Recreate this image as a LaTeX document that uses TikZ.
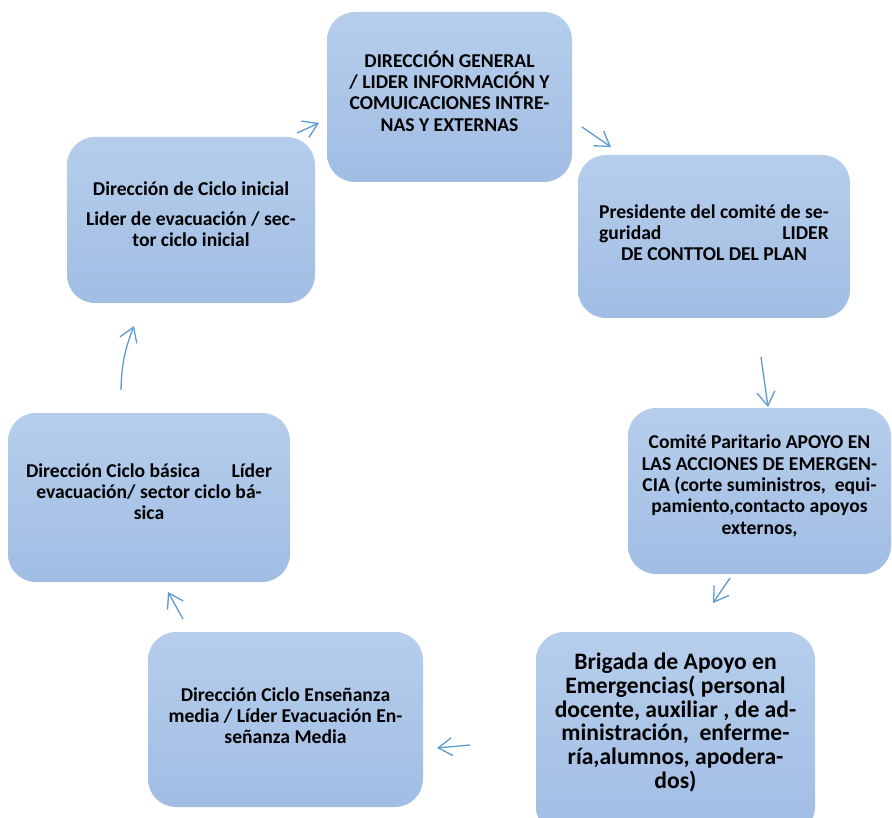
\documentclass[tikz,border=0pt]{standalone}
\usepackage{fontspec}
\setmainfont{Carlito}
\usetikzlibrary{arrows.meta}
\definecolor{boxtop}{RGB}{182,206,236}
\definecolor{boxbot}{RGB}{161,189,228}
\definecolor{arr}{RGB}{91,155,213}
\newlength\presw
\AtBeginDocument{\settowidth\presw{\normalfont\bfseries\fontsize{19.6}{21}\selectfont Presidente del comité de se-}}
\tikzset{
  box/.style={rounded corners=28pt, top color=boxtop, bottom color=boxbot, draw=none, inner sep=0pt},
  txt/.style={align=center, font=\fontsize{19.6}{21.3}\selectfont\bfseries, inner sep=0pt},
  bigtxt/.style={txt, font=\fontsize{23.6}{23.8}\selectfont\bfseries},
  conn/.style={draw=arr, line width=1.3pt, -{Straight Barb[length=14pt,width=18pt]}},
}
\begin{document}
\begin{tikzpicture}[x=1pt,y=-1pt]
\useasboundingbox[fill=white] (0,0) rectangle (892,818);
\node[box, minimum width=245pt, minimum height=170pt] (b1) at (449.5,97) {};
\node[txt] (b1t) at ([yshift=6pt]b1.center)
  {DIRECCIÓN GENERAL\\/ LIDER INFORMACIÓN Y\\COMUICACIONES INTRE-\\NAS Y EXTERNAS};
\node[box, minimum width=272pt, minimum height=163pt] (b2) at (714,236.5) {};
\node[txt] (b2t) at ([yshift=4pt]b2.center)
  {Presidente del comité de se-\\\makebox[\presw][s]{guridad\hfill LIDER}\\DE CONTTOL DEL PLAN};
\node[box, minimum width=263pt, minimum height=166pt] (b3) at (759.5,491) {};
\node[txt] (b3t) at ([yshift=5pt]b3.center)
  {Comité Paritario APOYO EN\\LAS ACCIONES DE EMERGEN-\\CIA (corte suministros,\ \ equi-\\pamiento,contacto apoyos\\externos,};
\node[box, minimum width=279pt, minimum height=203pt] (b4) at (675.5,733.5) {};
\node[bigtxt] (b4t) at ([yshift=11pt]b4.center)
  {Brigada de Apoyo en\\Emergencias( personal\\docente, auxiliar , de ad-\\ministración,\ \ enferme-\\ría,alumnos, apodera-\\dos)};
\node[box, minimum width=275pt, minimum height=175pt] (b5) at (285.5,719.5) {};
\node[txt] (b5t) at ([yshift=4pt]b5.center)
  {Dirección Ciclo Enseñanza\\media / Líder Evacuación En-\\señanza Media};
\node[box, minimum width=282pt, minimum height=169pt] (b6) at (149,497.5) {};
\node[txt] (b6t) at ([yshift=6pt]b6.center)
  {\makebox[246pt][s]{Dirección Ciclo básica\hfill Líder}\\evacuación/ sector ciclo bá-\\sica};
\node[box, minimum width=248pt, minimum height=166pt] (b7) at (191,220) {};
\node[txt] (b7t) at ([yshift=6pt]b7.center)
  {Dirección de Ciclo inicial\\[9pt]Lider de evacuación / sec-\\tor ciclo inicial};
% connector end points
\coordinate (a1s) at (297,133); \coordinate (a1e) at (319,123);
\coordinate (a2s) at (582,127); \coordinate (a2e) at (611,147);
\coordinate (a3s) at (761,357); \coordinate (a3e) at (768,407);
\coordinate (a4s) at (730,578); \coordinate (a4e) at (713,603);
\coordinate (a5s) at (470,745); \coordinate (a5e) at (437,748);
\coordinate (a6s) at (183,619); \coordinate (a6e) at (168,592);
\coordinate (a7s) at (121,390); \coordinate (a7e) at (134,326);
\draw[conn] (a1s) -- (a1e);
\draw[conn] (a2s) -- (a2e);
\draw[conn] (a3s) -- (a3e);
\draw[conn] (a4s) -- (a4e);
\draw[conn] (a5s) -- (a5e);
\draw[conn] (a6s) -- (a6e);
\draw[conn] (a7s) to[bend left=10] (a7e);
\end{tikzpicture}
\end{document}
